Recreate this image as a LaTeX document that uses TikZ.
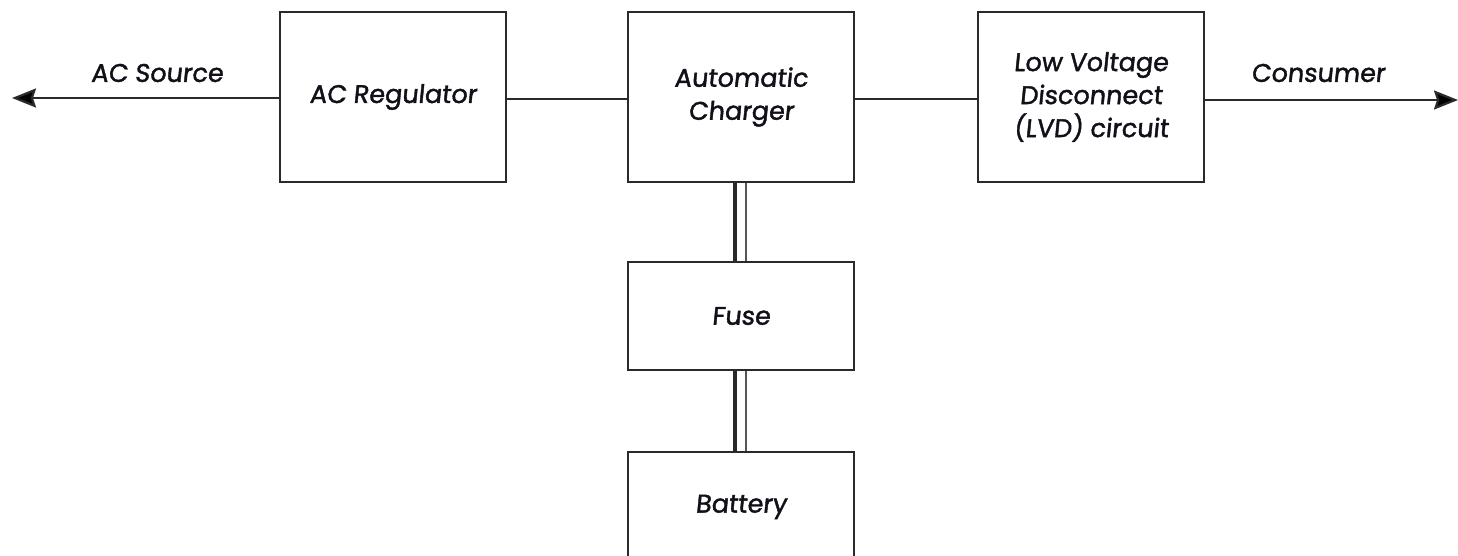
\documentclass[tikz,border=0pt]{standalone}
\usepackage{fontspec}
\setmainfont{Poppins}[FakeSlant=0.1,FakeBold=1.6]
\usetikzlibrary{arrows.meta}
\definecolor{ln}{HTML}{2A2A2A}
\definecolor{tx}{HTML}{101018}
\tikzset{
  blk/.style={draw=ln, line width=2pt, minimum width=226pt, align=center, text=tx, inner sep=0pt,
    font=\fontsize{25.5}{33}\selectfont},
  wire/.style={draw=ln, line width=2.2pt},
  lbl/.style={text=tx, font=\fontsize{25.5}{33}\selectfont, inner sep=0pt},
  arr/.style={wire, -{Stealth[inset=3pt,length=24pt,width=19pt,fill=black]}},
}
\begin{document}
\begin{tikzpicture}[x=1pt,y=-1pt]
\useasboundingbox (0,0) rectangle (1458,555);
\node[blk, minimum height=170pt] (reg) at (393,97) {AC Regulator};
\node[blk, minimum height=170pt] (chg) at (741,97) {Automatic\\Charger};
\node[blk, minimum height=170pt] (lvd) at (1091,97) {Low Voltage\\Disconnect\\(LVD) circuit};
\node[blk, minimum height=108pt] (fuse) at (741,316) {Fuse};
\node[blk, minimum height=110pt] (bat) at (741,507) {Battery};
\coordinate (src) at (12,98);
\coordinate (cons) at (1458,100);
\node[lbl] (srclbl) at (157,73) {AC Source};
\node[lbl] (conslbl) at (1318,73) {Consumer};
\draw[arr] (reg.west |- src) -- (src);
\draw[arr] (lvd.east |- cons) -- (cons);
\draw[wire] ([yshift=-2pt]reg.east) -- ([yshift=-2pt]chg.west);
\draw[wire] ([yshift=-2pt]chg.east) -- ([yshift=-2pt]lvd.west);
\draw[draw=ln, line width=3.2pt] ([xshift=-6pt]chg.south) -- ([xshift=-6pt]fuse.north);
\draw[draw=ln!80, line width=2pt] ([xshift=5pt]chg.south) -- ([xshift=5pt]fuse.north);
\draw[draw=ln, line width=3.2pt] ([xshift=-6pt]fuse.south) -- ([xshift=-6pt]bat.north);
\draw[draw=ln!80, line width=2pt] ([xshift=5pt]fuse.south) -- ([xshift=5pt]bat.north);
\end{tikzpicture}
\end{document}
